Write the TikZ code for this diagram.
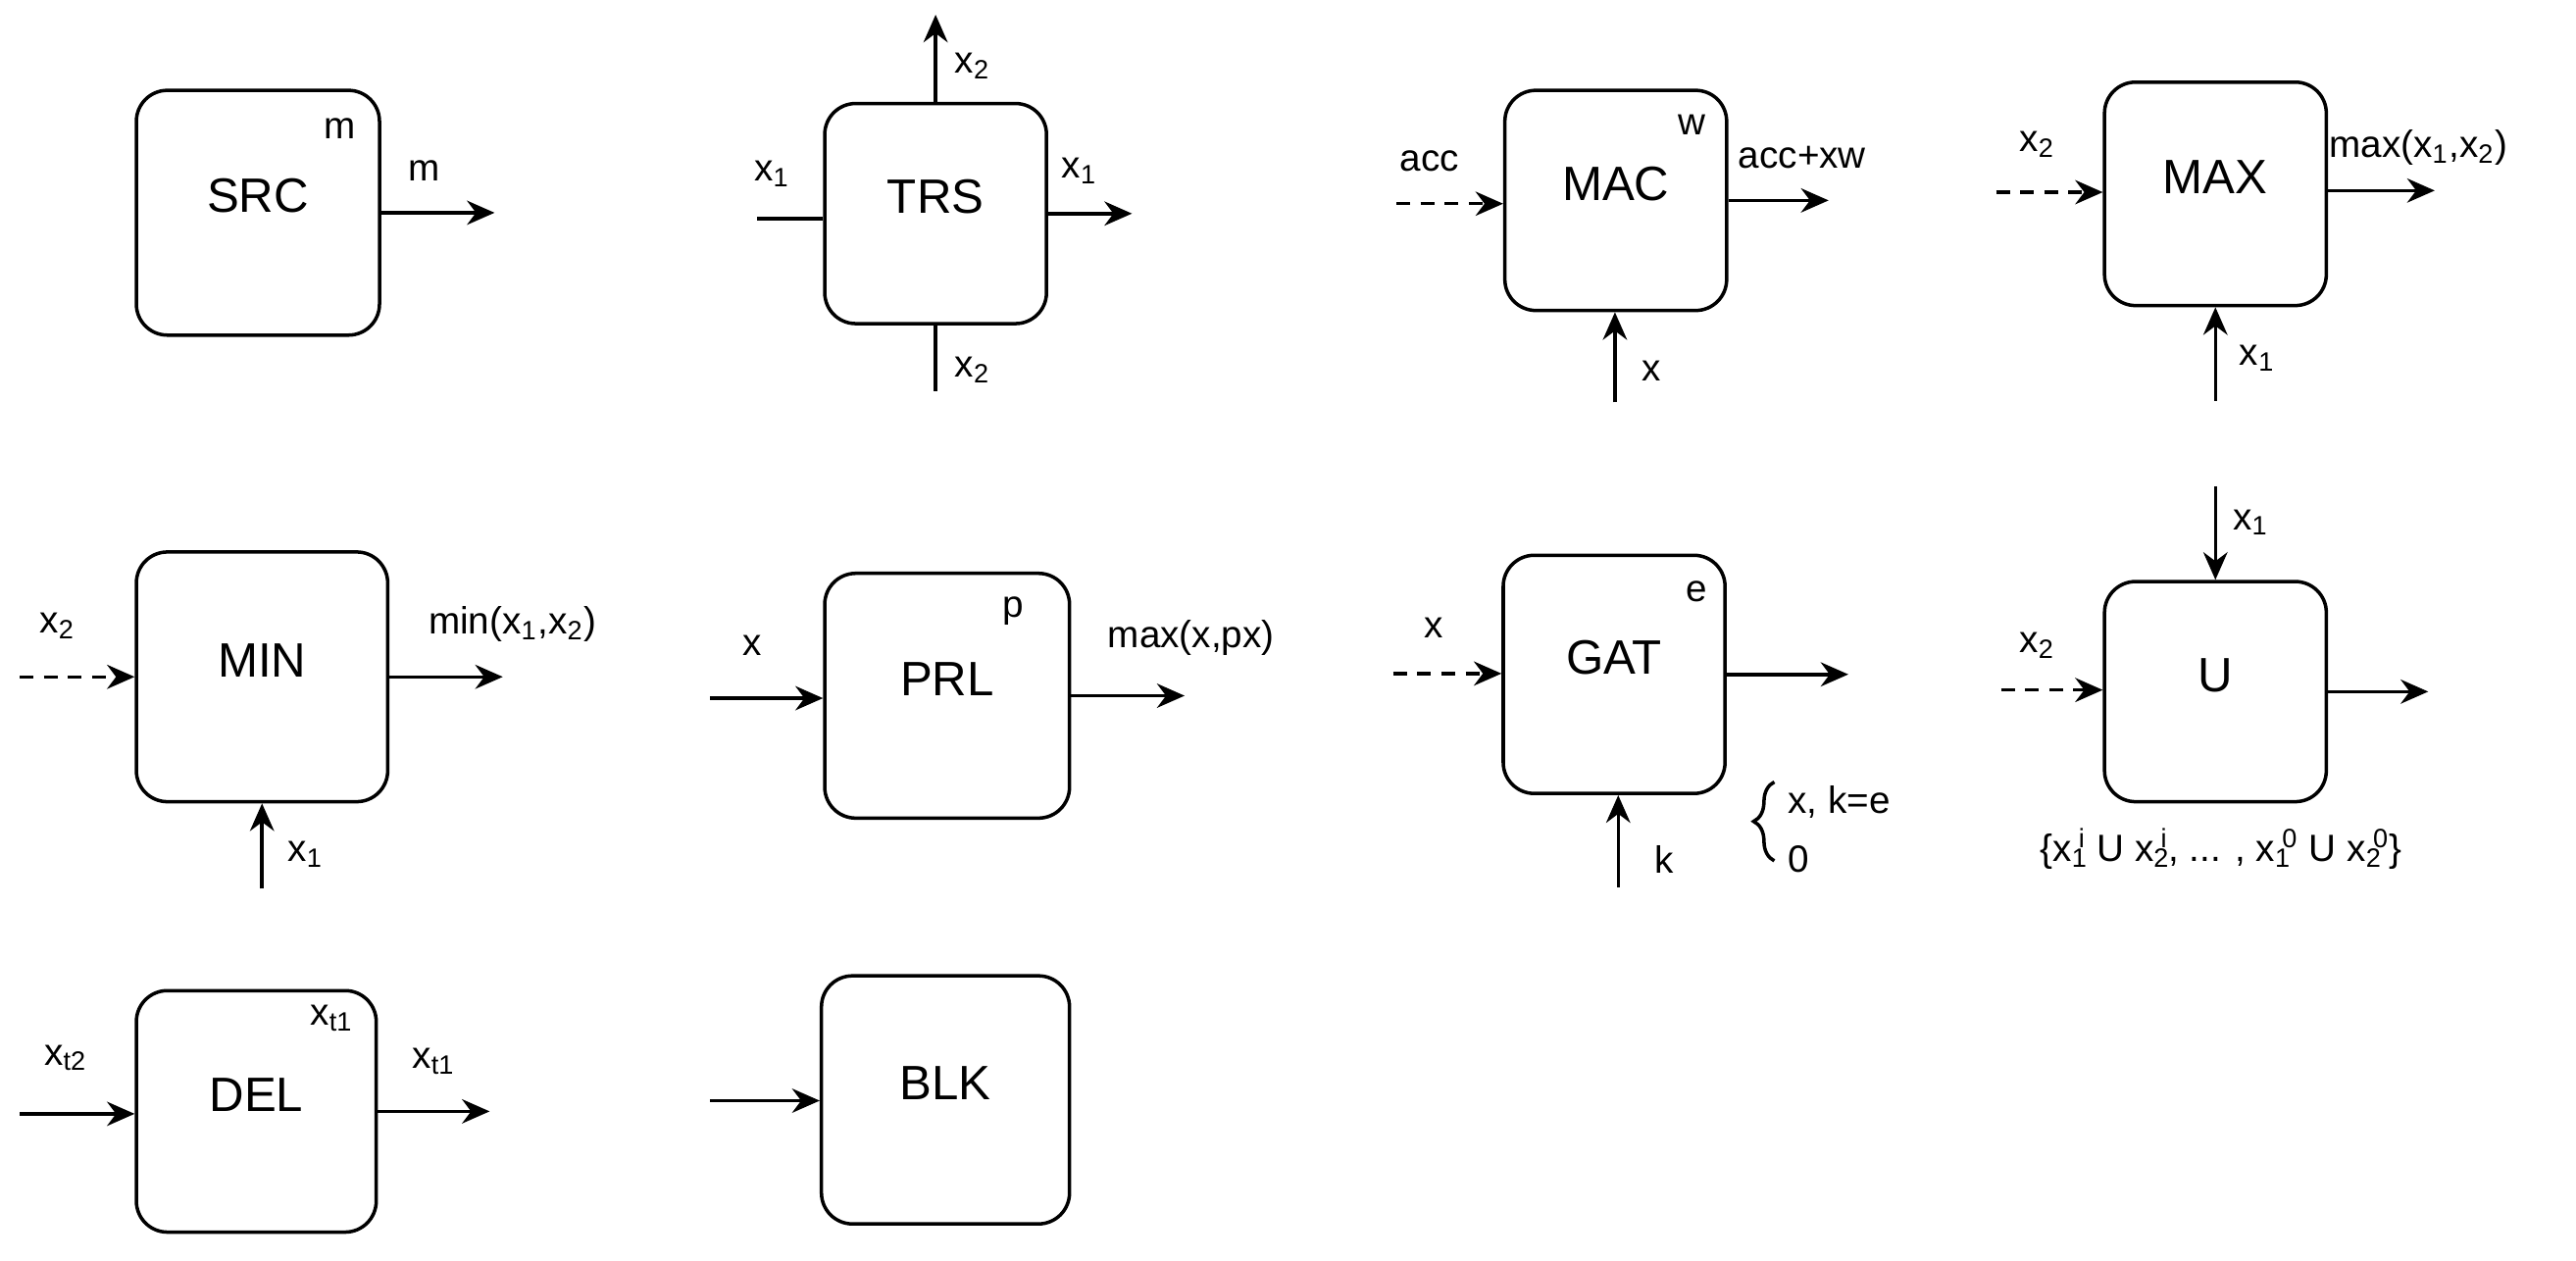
\documentclass[tikz,border=0pt]{standalone}
\usepackage{fontspec}
\setmainfont{Liberation Sans}
\usetikzlibrary{arrows.meta,fit,decorations.pathreplacing}
\newcommand{\xsi}[2]{x\textsubscript{#1}\hspace{-0.25em}\textsuperscript{#2}}
\begin{document}
\begin{tikzpicture}[x=0.016754cm,y=-0.016754cm,
  box/.style={draw,line width=1pt,rounded corners=9pt,inner sep=0pt,font=\fontsize{14}{16}\selectfont},
  arr/.style={line width=1pt,-{Stealth[length=8pt,width=7pt]}},
  darr/.style={arr,dash pattern=on 4pt off 3pt},
  ln/.style={line width=1pt},
  lab/.style={font=\fontsize{11}{13}\selectfont,inner sep=0pt}]
\useasboundingbox (0,0) rectangle (1568,767);
% row 1
\node[box,fit={(83,55)(231,204)}] (src) {SRC};
\node[lab] at (207,78) {m};
\draw[arr] (src.east) -- ++(69,0) coordinate (srco);
\node[lab] at (258,104) {m};

\node[box,fit={(502,63)(637,197)}] (trs) {TRS};
\draw[ln] (trs.west) ++(-40,3) coordinate (trsi) -- ++(40,0);
\node[lab] at (470,106) {x\textsubscript{1}};
\draw[arr] (trs.east) -- ++(51,0) coordinate (trso);
\node[lab] at (657,104) {x\textsubscript{1}};
\draw[arr] (trs.north) -- ++(0,-53) coordinate (trst);
\node[lab] at (592,40) {x\textsubscript{2}};
\draw[ln] (trs.south) -- ++(0,40) coordinate (trsb);
\node[lab] at (592,225) {x\textsubscript{2}};

\node[box,fit={(916,55)(1051,189)}] (mac) {MAC};
\node[lab] at (1030,76) {w};
\coordinate (maci) at (850,124);
\draw[darr] (maci) -- (mac.west |- maci);
\node[lab] at (870,98) {acc};
\draw[arr] (mac.east) -- ++(61,0) coordinate (maco);
\node[lab] at (1097,96) {acc+xw};
\coordinate (macb) at (983,245);
\draw[arr] (macb) -- (macb |- mac.south);
\node[lab] at (1005,226) {x};

\node[box,fit={(1281,50)(1416,186)}] (max) {MAX};
\coordinate (maxi) at (1215,117);
\draw[darr] (maxi) -- (max.west |- maxi);
\node[lab] at (1240,88) {x\textsubscript{2}};
\coordinate (maxo) at (1482,116);
\draw[arr] (max.east |- maxo) -- (maxo);
\node[lab] at (1472,90) {max(x\textsubscript{1},x\textsubscript{2})};
\draw[arr] (max.south) ++(0,57) coordinate (maxb) -- (max.south);
\node[lab] at (1374,218) {x\textsubscript{1}};
% row 2
\node[box,fit={(83,336)(236,488)}] (min) {MIN};
\draw[darr] (12,412) coordinate (mini) -- (min.west |- mini);
\node[lab] at (35,381) {x\textsubscript{2}};
\draw[arr] (min.east) -- ++(69,0) coordinate (mino);
\node[lab] at (312,380) {min(x\textsubscript{1},x\textsubscript{2})};
\draw[arr] (min.south) ++(0,52) coordinate (minb) -- (min.south);
\node[lab] at (186,520) {x\textsubscript{1}};

\node[box,fit={(502,349)(651,498)}] (prl) {PRL};
\node[lab] at (617,372) {p};
\draw[arr] (432,425) coordinate (prli) -- (prl.west |- prli);
\node[lab] at (458,393) {x};
\draw[arr] (prl.east) -- ++(69,0) coordinate (prlo);
\node[lab] at (725,388) {max(x,px)};

\node[box,fit={(915,338)(1050,483)}] (gat) {GAT};
\node[lab] at (1033,360) {e};
\draw[darr] (848,410) coordinate (gati) -- (gat.west |- gati);
\node[lab] at (873,382) {x};
\draw[arr] (gat.east) -- ++(74,0) coordinate (gato);
\draw[arr] (985,540) coordinate (gatb) -- (gatb |- gat.south);
\node[lab] at (1013,523) {k};
\draw[ln,decorate,decoration={brace,amplitude=6pt}] (1080,524) -- (1080,476);
\node[lab,anchor=west] at (1088,488) {x, k=e};
\node[lab,anchor=west] at (1088,523) {0};

\node[box,fit={(1281,354)(1416,488)}] (u) {U};
\draw[arr] (u.north) ++(0,-57) coordinate (ut) -- (u.north);
\node[lab] at (1370,318) {x\textsubscript{1}};
\draw[darr] (1218,420) coordinate (ui) -- (u.west |- ui);
\node[lab] at (1240,393) {x\textsubscript{2}};
\draw[arr] (u.east) -- ++(61,0) coordinate (uo);
\node[lab] at (1352,517) {\{\xsi{1}{i} U \xsi{2}{i}, ... , \xsi{1}{0} U \xsi{2}{0}\}};
% row 3
\node[box,fit={(83,603)(229,750)}] (del) {DEL};
\node[lab] at (202,620) {x\textsubscript{t1}};
\draw[arr] (12,678) coordinate (deli) -- (del.west |- deli);
\node[lab] at (40,644) {x\textsubscript{t2}};
\draw[arr] (del.east) -- ++(68,0) coordinate (delo);
\node[lab] at (264,646) {x\textsubscript{t1}};

\node[box,fit={(500,594)(651,745)}] (blk) {BLK};
\draw[arr] (432,670) coordinate (blki) -- (blk.west |- blki);
\end{tikzpicture}
\end{document}
